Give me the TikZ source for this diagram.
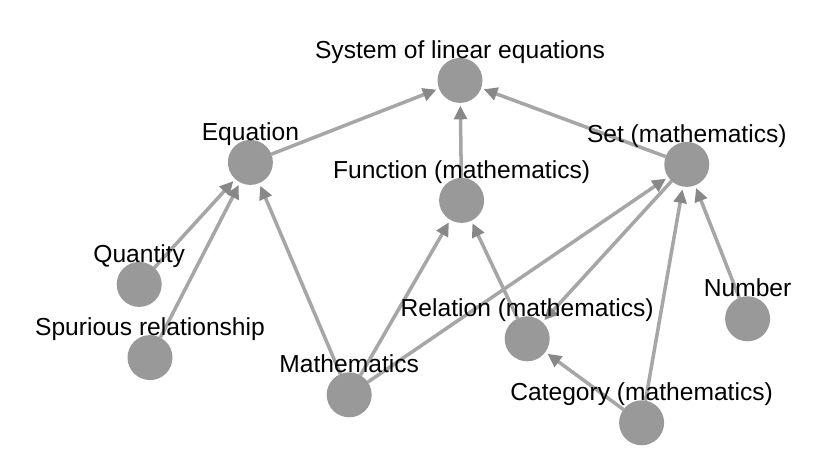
\documentclass[tikz,border=0pt]{standalone}
\usepackage{fontspec}
\setmainfont{Liberation Sans}
\usetikzlibrary{arrows.meta,backgrounds}

\definecolor{nodegray}{RGB}{153,153,153}
\definecolor{linkgray}{RGB}{166,166,166}
\definecolor{tipgray}{RGB}{136,136,136}

\tikzset{
  topic/.style={circle, fill=nodegray, minimum size=1.125cm, inner sep=0pt, outer sep=0pt},
  tag/.style={anchor=base, inner sep=0pt, font=\fontsize{17.5}{20}\selectfont},
  link/.style={draw=linkgray, line width=2.5pt, shorten >=0.07cm,
    -{Triangle[length=0.34cm, width=0.32cm, color=tipgray]}}
}

\begin{document}
\begin{tikzpicture}

    \useasboundingbox (0,0) rectangle (21,11.65);

    %% Topic graph

    % Topics
    \node[topic] (sys) at (11.50,9.64) {};
    \node[topic] (equ) at (6.26,7.59) {};
    \node[topic] (fun) at (11.54,6.64) {};
    \node[topic] (set) at (17.17,7.54) {};
    \node[topic] (qua) at (3.48,4.54) {};
    \node[topic] (spu) at (3.75,2.71) {};
    \node[topic] (mat) at (8.73,1.78) {};
    \node[topic] (rel) at (13.18,3.18) {};
    \node[topic] (num) at (18.69,3.68) {};
    \node[topic] (cat) at (16.04,1.08) {};

    % Labels
    \node[tag] (sys-l) at ([yshift=0.55cm]sys.center) {System of linear equations};
    \node[tag] (equ-l) at ([yshift=0.55cm]equ.center) {Equation};
    \node[tag] (fun-l) at ([yshift=0.55cm]fun.center) {Function (mathematics)};
    \node[tag] (set-l) at ([yshift=0.55cm]set.center) {Set (mathematics)};
    \node[tag] (qua-l) at ([yshift=0.55cm]qua.center) {Quantity};
    \node[tag] (spu-l) at ([yshift=0.55cm]spu.center) {Spurious relationship};
    \node[tag] (mat-l) at ([yshift=0.55cm]mat.center) {Mathematics};
    \node[tag] (rel-l) at ([yshift=0.55cm]rel.center) {Relation (mathematics)};
    \node[tag] (num-l) at ([yshift=0.55cm]num.center) {Number};
    \node[tag] (cat-l) at ([yshift=0.55cm]cat.center) {Category (mathematics)};

    % Links
    \begin{scope}[on background layer]
        \draw[link] (equ) -- (sys);
        \draw[link] (fun) -- (sys);
        \draw[link] (set) -- (sys);
        \draw[link] (qua) -- (equ);
        \draw[link] (spu) -- (equ);
        \draw[link] (mat) -- (equ);
        \draw[link] (mat) -- (fun);
        \draw[link] (mat) -- (set);
        \draw[link] (rel) -- (fun);
        \draw[link] (set) -- (rel);
        \draw[link] (cat) -- (rel);
        \draw[link] (cat) -- (set);
        \draw[link] (num) -- (set);
    \end{scope}

\end{tikzpicture}
\end{document}
